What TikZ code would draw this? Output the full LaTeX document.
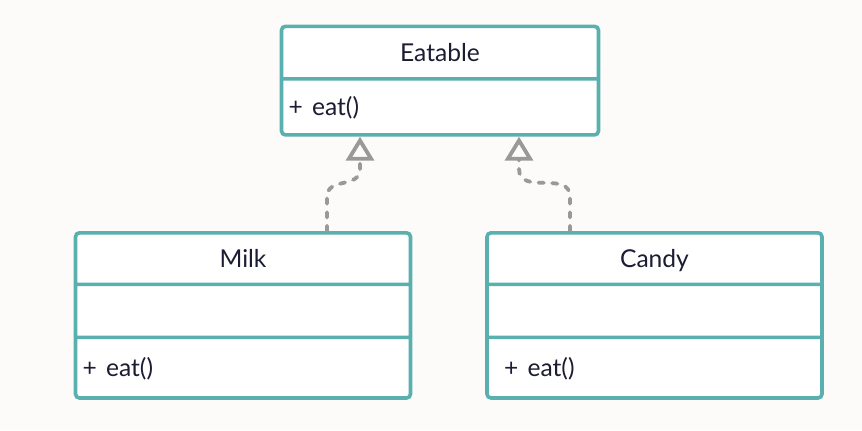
\documentclass[tikz,border=0pt]{standalone}
\usepackage{fontspec}
\setmainfont{Lato}
\usepackage{tikz}
\usetikzlibrary{shapes.multipart,arrows.meta}
\definecolor{umlteal}{HTML}{5AAFAF}
\definecolor{linegray}{HTML}{999999}
\definecolor{ink}{HTML}{1C1C33}
\definecolor{paper}{HTML}{FCFBF9}
% strut giving a compartment its height
\newcommand{\partht}[1]{\rule[\dimexpr0.36em-#1/2\relax]{0pt}{#1}}
\newcommand{\opeat}{+ \hspace{1.5pt}eat()}
\tikzstyle{classbox} = [rectangle split, rectangle split parts=3, draw=umlteal,
    line width=1.8pt, fill=white, rounded corners=2pt, inner xsep=3.5pt,
    inner ysep=0pt, text=ink, minimum width=167.5pt,
    rectangle split part align={center,left,left}]
\tikzstyle{line} = [draw=linegray, line width=1.9pt, dash pattern=on 2.6pt off 4.2pt,
    line cap=round, -{Triangle[open, length=12pt, width=14pt]}]

\begin{document}
\begin{tikzpicture}[font=\fontsize{12.3}{15}\selectfont]
    \fill [paper] (0,0) rectangle (431pt,-215pt);
    \useasboundingbox (0,0) rectangle (431pt,-215pt);
    % Nodes
    \node [classbox, rectangle split parts=2, minimum width=158.5pt, anchor=north]
        (eatable) at (220pt,-12.25pt)
        {\partht{24.5pt}Eatable\nodepart{two}\partht{26.2pt}\opeat};
    \node [classbox, anchor=north] (milk) at (121.5pt,-115.5pt)
        {\partht{24pt}Milk\nodepart{two}\partht{24.7pt}\nodepart{three}\partht{28.5pt}\opeat};
    \node [classbox, anchor=north] (candy) at (327.25pt,-115.5pt)
        {\partht{24pt}Candy\nodepart{two}\partht{24.7pt}\nodepart{three}\partht{28.5pt}\hspace{5pt}\opeat};
    % Paths
    \path [line] ([xshift=42pt]milk.north) -- ++(0,17pt)
        to [out=90, in=-90, looseness=1.2] ([xshift=-40pt, yshift=-16pt]eatable.south) -- ([xshift=-40pt]eatable.south);
    \path [line] ([xshift=-42.25pt]candy.north) -- ++(0,17pt)
        to [out=90, in=-90, looseness=1.2] ([xshift=39.5pt, yshift=-16pt]eatable.south) -- ([xshift=39.5pt]eatable.south);
\end{tikzpicture}
\end{document}
